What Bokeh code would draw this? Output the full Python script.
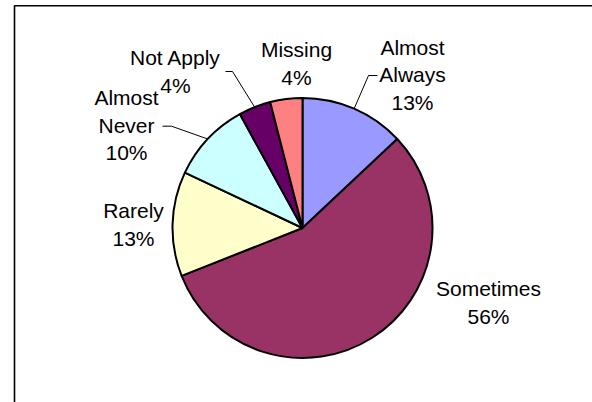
import math
from bokeh.plotting import figure
from bokeh.models import Range1d
from bokeh.embed import file_html
from bokeh.resources import INLINE
from bokeh.core.properties import value

# ---------------- data ----------------
categories = ["Almost Always", "Sometimes", "Rarely", "Almost Never", "Not Apply", "Missing"]
percents = [13, 56, 13, 10, 4, 4]
colors = ["#9999FF", "#993366", "#FFFFCC", "#CCFFFF", "#660066", "#FF8080"]
label_lines = [["Almost", "Always"], ["Sometimes"], ["Rarely"], ["Almost", "Never"], ["Not Apply"], ["Missing"]]

# ---------------- layout (page pixel coordinates; y data = -page y) ----------------
W, H = 592, 402
CX, CY, R = 302, 227.5, 130
LINE_GAP = 27.5
FONT = "Liberation Sans"
label_pos = {
    "Almost Always": (412, 46.7),
    "Sometimes": (488, 288.3),
    "Rarely": (133, 210.0),
    "Almost Never": (126, 97.3),
    "Not Apply": (175, 57.3),
    "Missing": (296, 49.3),
}
leaders = {
    "Almost Always": [(368, 75), (377, 75)],
    "Not Apply": [(232, 71), (225, 71)],
    "Almost Never": [(171, 125.7), (162, 125.7)],
}

p = figure(width=W, height=H, x_range=Range1d(0, W), y_range=Range1d(-H, 0),
           output_backend="svg", toolbar_location=None, min_border=0)
p.axis.visible = False
p.grid.visible = False
p.outline_line_color = None
p.background_fill_color = "white"
p.border_fill_color = "white"

# border box (left and top edges visible)
p.line(x=[14, 14, 700], y=[-500, -5.2, -5.2], line_color="black", line_width=1.6)

# wedges
total = float(sum(percents))
starts, ends, mids = [], [], []
cum = 0.0
for v in percents:
    a0 = math.radians(90 - cum / total * 360)
    cum += v
    a1 = math.radians(90 - cum / total * 360)
    starts.append(a0)
    ends.append(a1)
    mids.append((a0 + a1) / 2)

p.wedge(x=CX, y=-CY, radius=R, start_angle=starts, end_angle=ends, direction="clock",
        fill_color=colors, line_color="black", line_width=2)

# leader lines
for cat, pts in leaders.items():
    i = categories.index(cat)
    sx = CX + R * math.cos(mids[i])
    sy = CY - R * math.sin(mids[i])
    xs = [sx] + [q[0] for q in pts]
    ys = [-sy] + [-q[1] for q in pts]
    p.line(x=xs, y=ys, line_color="black", line_width=1)

# labels
tx, ty, tt = [], [], []
for cat, lines, v in zip(categories, label_lines, percents):
    x0, y0 = label_pos[cat]
    for k, s in enumerate(lines + [f"{v}%"]):
        tx.append(x0)
        ty.append(-(y0 + k * LINE_GAP))
        tt.append(s)
p.text(x=tx, y=ty, text=tt, text_font=value(FONT), text_font_size="21px",
       text_align="center", text_baseline="middle", text_color="black")

open("out.html", "w").write(file_html(p, INLINE))
